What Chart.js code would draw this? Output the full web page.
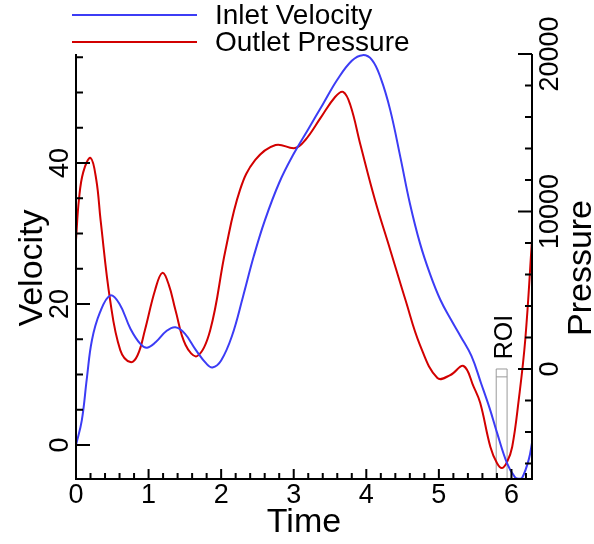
<!DOCTYPE html>
<html>
<head>
<meta charset="utf-8">
<script src="https://cdn.jsdelivr.net/npm/chart.js@4"></script>
<style>
  body { margin: 0; background: #fff; }
  #chart { display: block; }
</style>
</head>
<body>
<canvas id="chart" width="594" height="544"></canvas>
<script>
// values
const velTime = [0, 0.08, 0.15, 0.22, 0.33, 0.47, 0.6, 0.75, 0.89, 0.98, 1.1, 1.25, 1.37, 1.5, 1.65, 1.8, 1.88,
    2.0, 2.15, 2.3, 2.45, 2.6, 2.8, 3.0, 3.2, 3.4, 3.6, 3.8, 3.95, 4.08, 4.2, 4.33, 4.47, 4.6, 4.74,
    4.88, 5.02, 5.16, 5.3, 5.45, 5.58, 5.7, 5.8, 5.94, 6.05, 6.1, 6.15, 6.24, 6.2832];
const velocity = [0, 3.5, 9.5, 14.9, 18.8, 21.2, 20.0, 16.5, 14.3, 13.8, 14.6, 16.2, 16.7, 15.8, 13.5, 11.5, 11.0,
    12.0, 15.5, 21.0, 26.8, 31.8, 37.2, 41.3, 44.8, 48.3, 51.8, 54.5, 55.3, 54.6, 52.0, 47.5, 40.8, 34.3, 28.6,
    24.2, 20.6, 17.9, 15.4, 12.6, 8.8, 5.2, 1.8, -2.6, -4.6, -4.8, -4.6, -2.0, 0.3];

const presTime = [0, 0.04, 0.1, 0.2, 0.28, 0.34, 0.47, 0.61, 0.75, 0.85, 0.95, 1.09, 1.19, 1.28, 1.37, 1.51, 1.67,
    1.85, 2.06, 2.26, 2.47, 2.75, 3.02, 3.16, 3.37, 3.57, 3.68, 3.78, 3.92, 4.12, 4.33, 4.54, 4.74, 4.98, 5.16, 5.34,
    5.48, 5.57, 5.71, 5.8, 5.87, 5.94, 6.01, 6.1, 6.19, 6.2832];
const pressure = [8190, 10730, 12500, 13400, 12000, 9400, 4380, 1200, 440, 890, 2480, 5020, 6100, 5330, 3750, 1520, 825,
    2480, 7560, 11370, 13270, 14220, 14030, 14540, 15940, 17270, 17590, 16760, 14220, 10730, 7560, 4380, 1520, -570, -380, 190,
    -1140, -2160, -4950, -5970, -6290, -5900, -4950, -1970, 1840, 8190];

const seriesNames = ["Inlet Velocity", "Outlet Pressure"];
const xTicks = [0, 1, 2, 3, 4, 5, 6];
const velTicks = [0, 20, 40];
const presTicks = [0, 10000, 20000];
const roiRange = [5.79, 5.94];
const roiLabel = "ROI";

const FONT = "'Liberation Sans', Arial, sans-serif";
const BLUE = "#3c3cf5";
const RED = "#d20000";

function toPoints(xs, ys) {
    return xs.map((x, i) => ({ x: x, y: ys[i] }));
}

function rotText(ctx, text, x, y) {
    ctx.save();
    ctx.translate(x, y);
    ctx.rotate(-Math.PI / 2);
    ctx.textAlign = "center";
    ctx.textBaseline = "alphabetic";
    ctx.fillText(text, 0, 0);
    ctx.restore();
}

const roiPlugin = {
    id: "roi",
    beforeDatasetsDraw(chart) {
        const ctx = chart.ctx;
        const x = chart.scales.x, yP = chart.scales.yP;
        const a = x.getPixelForValue(roiRange[0]);
        const b = x.getPixelForValue(roiRange[1]);
        const top = yP.getPixelForValue(0);
        const cap = yP.getPixelForValue(-500);
        const bottom = chart.chartArea.bottom;
        ctx.save();
        ctx.strokeStyle = "#999";
        ctx.lineWidth = 1;
        ctx.beginPath();
        ctx.moveTo(a, bottom); ctx.lineTo(a, top); ctx.lineTo(b, top); ctx.lineTo(b, bottom);
        ctx.moveTo(a, cap); ctx.lineTo(b, cap);
        ctx.stroke();
        ctx.fillStyle = "#000";
        ctx.font = "25px " + FONT;
        rotText(ctx, roiLabel, (a + b) / 2 + 10, top - 32);
        ctx.restore();
    }
};

const axesPlugin = {
    id: "axes",
    afterDatasetsDraw(chart) {
        const ctx = chart.ctx;
        const area = chart.chartArea;
        const x = chart.scales.x, yV = chart.scales.yV, yP = chart.scales.yP;
        ctx.save();
        ctx.strokeStyle = "#000";
        ctx.lineWidth = 2;
        ctx.beginPath();
        ctx.moveTo(area.left, area.top); ctx.lineTo(area.left, area.bottom);
        ctx.lineTo(area.right, area.bottom); ctx.lineTo(area.right, area.top);
        ctx.stroke();

        // bottom ticks, minor every 0.2
        ctx.beginPath();
        for (let i = 0; i * 0.2 <= x.max + 1e-9; i++) {
            const px = x.getPixelForValue(i * 0.2);
            const len = i % 5 === 0 ? 10 : 6;
            ctx.moveTo(px, area.bottom); ctx.lineTo(px, area.bottom - len);
        }
        // left ticks, minor every 5
        for (let v = -5; v <= yV.max; v += 5) {
            if (v < yV.min) continue;
            const py = yV.getPixelForValue(v);
            const len = v % 20 === 0 ? 14 : 7;
            ctx.moveTo(area.left, py); ctx.lineTo(area.left + len, py);
        }
        // right ticks, minor every 2000
        for (let p = -6000; p <= yP.max; p += 2000) {
            const py = yP.getPixelForValue(p);
            const len = p % 10000 === 0 ? 14 : 7;
            ctx.moveTo(area.right, py); ctx.lineTo(area.right - len, py);
        }
        ctx.stroke();

        ctx.fillStyle = "#000";
        ctx.font = "27px " + FONT;
        ctx.textAlign = "center";
        ctx.textBaseline = "middle";
        xTicks.forEach(t => ctx.fillText(String(t), x.getPixelForValue(t), 496));
        velTicks.forEach(t => rotText(ctx, String(t), 68, yV.getPixelForValue(t)));
        presTicks.forEach(t => rotText(ctx, String(t), 558, yP.getPixelForValue(t)));

        ctx.font = "34px " + FONT;
        ctx.textAlign = "center";
        ctx.textBaseline = "alphabetic";
        ctx.fillText("Time", (area.left + area.right) / 2, 532);
        rotText(ctx, "Velocity", 42, 268);
        rotText(ctx, "Pressure", 591, 268);

        // legend
        const rows = [[seriesNames[0], BLUE, 15], [seriesNames[1], RED, 42]];
        ctx.font = "28px " + FONT;
        ctx.textAlign = "left";
        ctx.textBaseline = "middle";
        rows.forEach(r => {
            ctx.strokeStyle = r[1];
            ctx.lineWidth = 2;
            ctx.beginPath();
            ctx.moveTo(72, r[2]); ctx.lineTo(197, r[2]);
            ctx.stroke();
            ctx.fillText(r[0], 215, r[2] + 1);
        });
        ctx.restore();
    }
};

new Chart(document.getElementById("chart"), {
    type: "line",
    data: {
        datasets: [
            {
                label: seriesNames[0],
                data: toPoints(velTime, velocity),
                yAxisID: "yV",
                borderColor: BLUE,
                borderWidth: 2,
                pointRadius: 0,
                tension: 0.4,
                clip: false
            },
            {
                label: seriesNames[1],
                data: toPoints(presTime, pressure),
                yAxisID: "yP",
                borderColor: RED,
                borderWidth: 2,
                pointRadius: 0,
                tension: 0.4,
                clip: false
            }
        ]
    },
    options: {
        responsive: false,
        animation: false,
        layout: { padding: { left: 76, right: 62, top: 54, bottom: 65 } },
        plugins: { legend: { display: false }, tooltip: { enabled: false } },
        scales: {
            x: { type: "linear", min: 0, max: 2 * Math.PI, display: false },
            yV: { type: "linear", position: "left", min: -4.82, max: 55.46, display: false },
            yP: { type: "linear", position: "right", min: -6985, max: 20000, display: false }
        }
    },
    plugins: [roiPlugin, axesPlugin]
});
</script>
</body>
</html>
